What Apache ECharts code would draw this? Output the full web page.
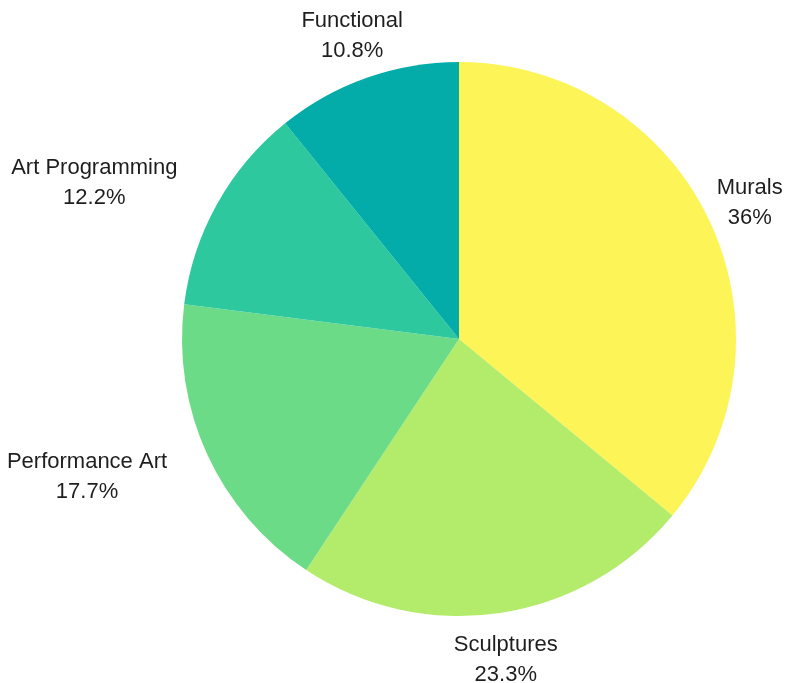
<!DOCTYPE html>
<html>
<head>
<meta charset="utf-8">
<script src="https://cdn.jsdelivr.net/npm/echarts@6/dist/echarts.min.js"></script>
<style>
html,body{margin:0;padding:0;background:#fff;}
#chart{width:785px;height:683px;}
</style>
</head>
<body>
<div id="chart"></div>
<script>
const categories = ['Murals', 'Sculptures', 'Performance Art', 'Art Programming', 'Functional'];
const values = [36, 23.3, 17.7, 12.2, 10.8];
const colors = ['#fdf457', '#b3eb6a', '#6cdb87', '#2ec89e', '#03aca9'];

// label box paddings / offsets used to nudge each label to its place
const labelPads = [
  [0, 0, 9, 6],
  [19, 0, 0, 0],
  [14, 166, 0, 0],
  [0, 174, 6, 0],
  [0, 2, 18, 0]
];
const labelOffsets = [
  [0, -1],
  [0, 6],
  [0, 5],
  [0, -1],
  [0, -3]
];

const chart = echarts.init(document.getElementById('chart'), null, {renderer: 'canvas'});
const pieData = categories.map((c, i) => ({
  name: c, value: values[i], itemStyle: {color: colors[i]}
}));
const labelData = categories.map((c, i) => ({
  name: c, value: values[i],
  itemStyle: {color: 'rgba(0,0,0,0)'},
  label: {padding: labelPads[i], offset: labelOffsets[i]}
}));

chart.setOption({
  backgroundColor: '#ffffff',
  animation: false,
  series: [
    {
      type: 'pie',
      center: [459, 339],
      radius: [0, 277],
      startAngle: 90,
      clockwise: true,
      avoidLabelOverlap: false,
      label: {show: false},
      labelLine: {show: false},
      emphasis: {disabled: true},
      itemStyle: {borderWidth: 0},
      data: pieData
    },
    {
      type: 'pie',
      center: [459, 339],
      radius: [300, 330],
      startAngle: 90,
      clockwise: true,
      silent: true,
      avoidLabelOverlap: false,
      emphasis: {disabled: true},
      labelLine: {show: false},
      label: {
        show: true,
        position: 'inside',
        formatter: (p) => p.name + '\n' + p.value + '%',
        fontFamily: 'Liberation Sans, Arial, sans-serif',
        fontSize: 22,
        lineHeight: 30,
        color: '#1e1e1e',
        align: 'center'
      },
      data: labelData
    }
  ]
});
</script>
</body>
</html>
